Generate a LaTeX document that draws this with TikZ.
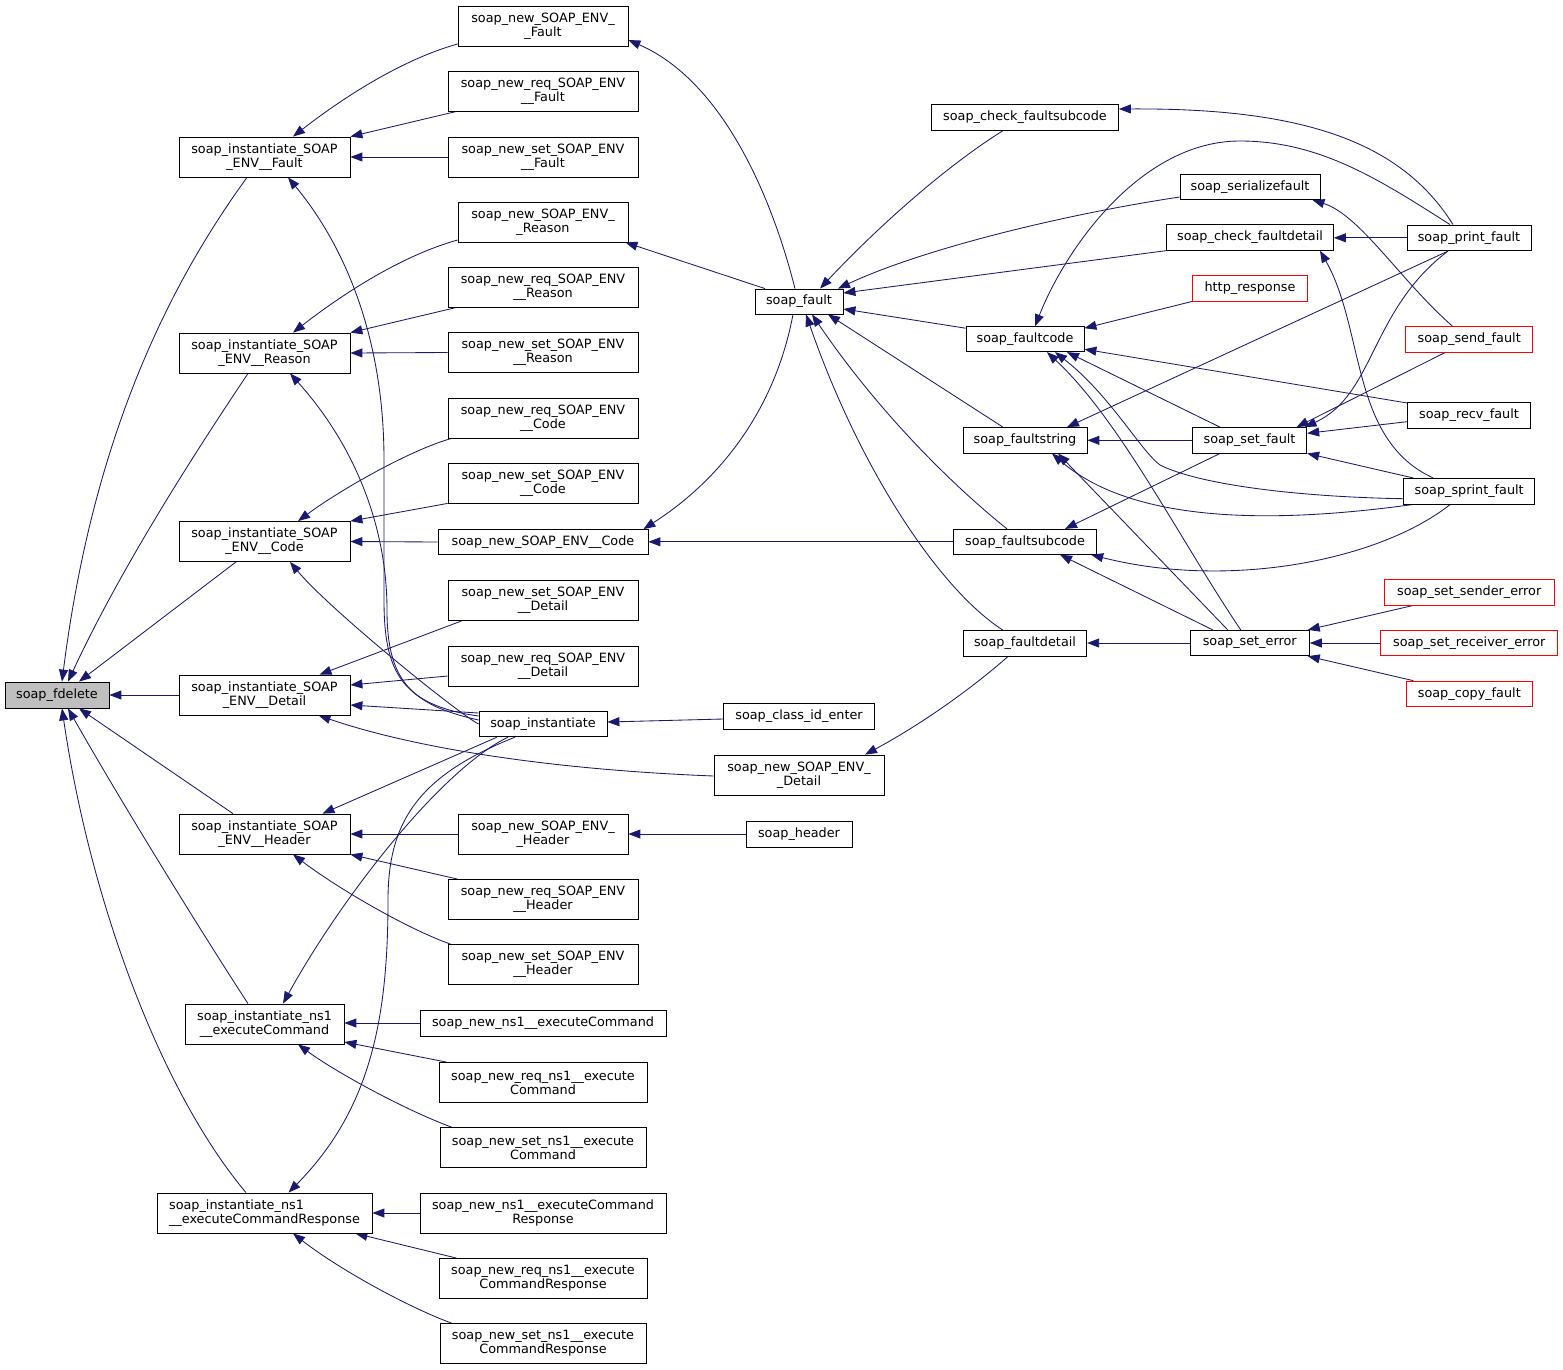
\documentclass[tikz,border=0pt]{standalone}
\usepackage{fontspec}
\setmainfont{DejaVu Sans}
\usetikzlibrary{arrows.meta,backgrounds}
\definecolor{edgecol}{RGB}{25,25,112}
\definecolor{nodered}{RGB}{255,0,0}
\definecolor{fillgray}{RGB}{191,191,191}
\newcommand\mynode[7][]{\node[box,minimum width=#5pt,minimum height=#6pt,#1] (#2) at (#3,#4) {#7};}
\begin{document}
\begin{tikzpicture}[x=1pt,y=-1pt,
 box/.style={draw=black,line width=0.8pt,fill=white,inner sep=0pt,align=center,font=\fontsize{12.8}{14}\selectfont},
 redbox/.style={draw=nodered},
 e/.style={draw=edgecol,line width=0.85pt,-{Triangle[length=12pt,width=9pt]}}]
\useasboundingbox (0,0) rectangle (1563,1369);
\mynode[fill=fillgray]{fdel}{57}{695}{104}{26}{soap\_fdelete}
\mynode{iFault}{264.5}{157}{171}{40}{soap\_instantiate\_SOAP\\\_ENV\_\_Fault}
\mynode{iReason}{264.5}{353}{171}{40}{soap\_instantiate\_SOAP\\\_ENV\_\_Reason}
\mynode{iCode}{264.5}{541.5}{171}{40}{soap\_instantiate\_SOAP\\\_ENV\_\_Code}
\mynode{iDetail}{264.5}{695}{171}{40}{soap\_instantiate\_SOAP\\\_ENV\_\_Detail}
\mynode{iHeader}{264.5}{834}{171}{40}{soap\_instantiate\_SOAP\\\_ENV\_\_Header}
\mynode{iCmd}{264.5}{1024}{159}{40}{soap\_instantiate\_ns1\\\_\_executeCommand}
\mynode[align=left]{iCmdResp}{264.5}{1213}{215}{40}{soap\_instantiate\_ns1\\\_\_executeCommandResponse}
\mynode{nFault}{543}{26}{170}{40}{soap\_new\_SOAP\_ENV\_\\\_Fault}
\mynode{nrFault}{543}{91}{190}{40}{soap\_new\_req\_SOAP\_ENV\\\_\_Fault}
\mynode{nsFault}{543}{157}{190}{40}{soap\_new\_set\_SOAP\_ENV\\\_\_Fault}
\mynode{nReason}{543}{222}{170}{40}{soap\_new\_SOAP\_ENV\_\\\_Reason}
\mynode{nrReason}{543}{287}{190}{40}{soap\_new\_req\_SOAP\_ENV\\\_\_Reason}
\mynode{nsReason}{543}{352.5}{190}{40}{soap\_new\_set\_SOAP\_ENV\\\_\_Reason}
\mynode{nrCode}{543}{418}{190}{40}{soap\_new\_req\_SOAP\_ENV\\\_\_Code}
\mynode{nsCode}{543}{483}{190}{40}{soap\_new\_set\_SOAP\_ENV\\\_\_Code}
\mynode{nCode}{543}{542}{210}{25}{soap\_new\_SOAP\_ENV\_\_Code}
\mynode{nsDetail}{543}{600.5}{190}{40}{soap\_new\_set\_SOAP\_ENV\\\_\_Detail}
\mynode{nrDetail}{543}{666}{190}{40}{soap\_new\_req\_SOAP\_ENV\\\_\_Detail}
\mynode{sInst}{543}{724}{128}{25.5}{soap\_instantiate}
\mynode{classid}{799}{716}{151}{26}{soap\_class\_id\_enter}
\mynode{nDetail}{799}{775}{170}{40}{soap\_new\_SOAP\_ENV\_\\\_Detail}
\mynode{nHeader}{543}{834}{170}{40}{soap\_new\_SOAP\_ENV\_\\\_Header}
\mynode{header}{799}{834}{106}{26}{soap\_header}
\mynode{nrHeader}{543}{899.5}{190}{40}{soap\_new\_req\_SOAP\_ENV\\\_\_Header}
\mynode{nsHeader}{543}{964.5}{190}{40}{soap\_new\_set\_SOAP\_ENV\\\_\_Header}
\mynode{nCmd}{543}{1023}{246}{26}{soap\_new\_ns1\_\_executeCommand}
\mynode{nrCmd}{543}{1082.5}{208}{40}{soap\_new\_req\_ns1\_\_execute\\Command}
\mynode{nsCmd}{543}{1147.5}{206}{40}{soap\_new\_set\_ns1\_\_execute\\Command}
\mynode{nCmdResp}{543}{1213}{246}{40}{soap\_new\_ns1\_\_executeCommand\\Response}
\mynode{nrCmdResp}{543}{1278.5}{208}{40}{soap\_new\_req\_ns1\_\_execute\\CommandResponse}
\mynode{nsCmdResp}{543}{1343.5}{206}{40}{soap\_new\_set\_ns1\_\_execute\\CommandResponse}
\mynode{fault}{799}{301.5}{88}{25}{soap\_fault}
\mynode{chkSub}{1025}{117.5}{187}{25.5}{soap\_check\_faultsubcode}
\mynode{serial}{1250}{187}{140}{25}{soap\_serializefault}
\mynode{chkDet}{1250}{237.5}{167}{25.5}{soap\_check\_faultdetail}
\mynode[redbox]{http}{1250}{288.3}{115}{25.5}{http\_response}
\mynode{fcode}{1025}{339.2}{118}{25}{soap\_faultcode}
\mynode{fstring}{1025}{440.3}{124}{25.5}{soap\_faultstring}
\mynode{setfault}{1249.5}{440.3}{114.5}{25.5}{soap\_set\_fault}
\mynode{fsub}{1025}{541.8}{143.5}{25}{soap\_faultsubcode}
\mynode{fdetail}{1025}{643.3}{123.5}{25.5}{soap\_faultdetail}
\mynode{seterr}{1249.7}{643}{119.3}{25.5}{soap\_set\_error}
\mynode{print}{1469}{237.8}{124}{25.7}{soap\_print\_fault}
\mynode[redbox]{send}{1469.2}{339.2}{127}{25.7}{soap\_send\_fault}
\mynode{recv}{1469}{415.2}{123.4}{25.7}{soap\_recv\_fault}
\mynode{sprint}{1469.2}{491.2}{131}{25.7}{soap\_sprint\_fault}
\mynode[redbox]{sender}{1469.2}{592.2}{169.7}{25.7}{soap\_set\_sender\_error}
\mynode[redbox]{receiver}{1469.2}{643}{177}{25.4}{soap\_set\_receiver\_error}
\mynode[redbox]{copy}{1469.3}{693.7}{126}{25.3}{soap\_copy\_fault}
\begin{pgfonlayer}{background}
% into soap_fdelete
\draw[e] ([xshift=-17.5pt]iFault.south) .. controls (180,270) and (95,420) .. ([xshift=5pt]fdel.north);
\draw[e] ([xshift=-16.5pt]iReason.south) .. controls (190,460) and (120,570) .. ([xshift=11pt]fdel.north);
\draw[e] ([xshift=-28.5pt]iCode.south) -- ([xshift=22pt]fdel.north);
\draw[e] (iDetail.west) -- (fdel.east);
\draw[e] ([xshift=-31.5pt]iHeader.north) -- ([xshift=22pt]fdel.south);
\draw[e] ([xshift=-16.5pt]iCmd.north) .. controls (200,930) and (120,800) .. ([xshift=11pt]fdel.south);
\draw[e] ([xshift=-18.5pt]iCmdResp.north) .. controls (160,1090) and (90,900) .. ([xshift=5pt]fdel.south);
% Fault
\draw[e] ([yshift=-18pt]nFault.west) .. controls (400,60) and (340,100) .. ([xshift=28.5pt]iFault.north);
\draw[e] ([xshift=9pt]nrFault.south west) -- (iFault.north east);
\draw[e] (nsFault.west) -- (iFault.east);
\draw[e] ([yshift=8pt]sInst.west) .. controls (400,705) and (384,670) .. (384,600) -- (384,460) .. controls (384,330) and (340,240) .. ([xshift=23.5pt]iFault.south);
% Reason
\draw[e] ([yshift=-18pt]nReason.west) .. controls (400,256) and (340,296) .. ([xshift=28.5pt]iReason.north);
\draw[e] ([xshift=9pt]nrReason.south west) -- (iReason.north east);
\draw[e] (nsReason.west) -- (iReason.east);
\draw[e] ([yshift=4pt]sInst.west) .. controls (410,705) and (387,680) .. (387,610) .. controls (387,520) and (350,440) .. ([xshift=25.5pt]iReason.south);
% Code
\draw[e] ([xshift=4pt]nrCode.south west) .. controls (410,450) and (340,490) .. ([xshift=33.5pt]iCode.north);
\draw[e] (nsCode.south west) -- (iCode.north east);
\draw[e] (nCode.west) -- (iCode.east);
\draw[e] (sInst.west) .. controls (460,715) and (330,610) .. ([xshift=25.5pt]iCode.south);
% Detail
\draw[e] ([xshift=14pt]nsDetail.south west) -- ([xshift=55pt]iDetail.north);
\draw[e] ([yshift=-10pt]nrDetail.west) -- ([yshift=10pt]iDetail.east);
\draw[e] ([yshift=11pt]sInst.west) -- ([yshift=-10pt]iDetail.east);
\draw[e] ([yshift=-1pt]nDetail.west) .. controls (560,770) and (420,750) .. ([xshift=54pt]iDetail.south);
% Header
\draw[e] ([xshift=-46pt]sInst.south) -- ([xshift=58pt]iHeader.north);
\draw[e] (nHeader.west) -- (iHeader.east);
\draw[e] ([xshift=10pt]nrHeader.north west) -- (iHeader.south east);
\draw[e] ([xshift=3pt]nsHeader.north west) .. controls (410,930) and (340,890) .. ([xshift=28.5pt]iHeader.south);
% ns1 executeCommand
\draw[e] ([xshift=-35pt]sInst.south) .. controls (440,770) and (340,900) .. ([xshift=18.5pt]iCmd.north);
\draw[e] (nCmd.west) -- (nCmd.west -| iCmd.east);
\draw[e] ([xshift=8pt]nrCmd.north west) -- ([yshift=-18pt]iCmd.east);
\draw[e] ([xshift=12pt]nsCmd.north west) .. controls (410,1112) and (340,1075) .. ([xshift=33.5pt]iCmd.south);
% ns1 executeCommandResponse
\draw[e] ([xshift=-28pt]sInst.south) .. controls (420,775) and (388,820) .. (388,900) .. controls (388,1020) and (370,1110) .. ([xshift=24pt]iCmdResp.north);
\draw[e] (nCmdResp.west) -- (iCmdResp.east);
\draw[e] ([xshift=18pt]nrCmdResp.north west) -- ([xshift=-17pt]iCmdResp.south east);
\draw[e] ([xshift=12pt]nsCmdResp.north west) .. controls (410,1308) and (340,1270) .. ([xshift=28.5pt]iCmdResp.south);
% soap_instantiate
\draw[e] ([yshift=-3pt]classid.west) -- ([yshift=2pt]sInst.east);
% middle from right
\draw[e] ([xshift=-4pt]fault.north) .. controls (770,190) and (720,80) .. ([yshift=-14pt]nFault.east);
\draw[e] ([xshift=-34pt]fault.north) -- ([xshift=-3pt]nReason.south east);
\draw[e] ([xshift=-6pt]fault.south) .. controls (775,410) and (720,480) .. ([xshift=-5pt]nCode.north east);
\draw[e] (fsub.west) -- (fsub.west -| nCode.east);
\draw[e] ([xshift=-17pt]fdetail.south) .. controls (970,690) and (920,725) .. ([xshift=66pt]nDetail.north);
\draw[e] (header.west) -- (nHeader.east);
% into soap_fault
\draw[e] ([xshift=-22pt]chkSub.south) .. controls (940,170) and (870,235) .. ([xshift=21pt]fault.north);
\draw[e] ([yshift=-10pt]serial.west) .. controls (1060,215) and (920,250) .. ([xshift=39pt]fault.north);
\draw[e] (chkDet.south west) -- ([yshift=8.5pt]fault.east);
\draw[e] ([yshift=11pt]fcode.west) -- ([yshift=-7.5pt]fault.east);
\draw[e] ([xshift=-22pt]fstring.north) -- ([xshift=29pt]fault.south);
\draw[e] ([xshift=-18pt]fsub.north) .. controls (940,475) and (870,400) .. ([xshift=13pt]fault.south);
\draw[e] ([xshift=-22pt]fdetail.north) .. controls (940,590) and (860,470) .. ([xshift=7pt]fault.south);
% right part
\draw[e] ([xshift=-16pt]print.north) .. controls (1400,140) and (1300,108) .. ([yshift=8.5pt]chkSub.east);
\draw[e] ([xshift=-19pt]print.north) .. controls (1380,180) and (1320,141) .. (1240,141) .. controls (1140,141) and (1065,250) .. ([xshift=10pt]fcode.north);
\draw[e] (print.west) -- (print.west -| chkDet.east);
\draw[e] ([xshift=-21pt]print.south) -- ([xshift=42pt]fstring.north);
\draw[e] ([xshift=-21pt]print.south) .. controls (1370,310) and (1375,395) .. ([xshift=55pt]setfault.north);
\draw[e] ([xshift=-17pt]send.north) .. controls (1400,280) and (1360,215) .. ([xshift=-8pt]serial.south east);
\draw[e] ([xshift=-24pt]send.south) -- ([xshift=47pt]setfault.north);
\draw[e] ([yshift=-1pt]recv.north west) -- ([yshift=-10pt]fcode.east);
\draw[e] ([yshift=-6.5pt]recv.west) -- ([yshift=7pt]setfault.east);
\draw[e] ([xshift=-56pt]sprint.north) -- (setfault.south east);
\draw[e] ([xshift=-36pt]sprint.north) .. controls (1350,440) and (1365,330) .. ([xshift=70pt]chkDet.south);
\draw[e] ([yshift=-7.5pt]sprint.west) .. controls (1300,497) and (1200,485) .. (1160,465) .. controls (1140,450) and (1110,395) .. ([xshift=30pt]fcode.south);
\draw[e] ([xshift=10pt]sprint.south west) .. controls (1300,520) and (1140,530) .. ([xshift=27pt]fstring.south);
\draw[e] ([xshift=-19pt]sprint.south) .. controls (1380,560) and (1230,590) .. ([xshift=-6pt]fsub.south east);
\draw[e] (setfault.west) -- (setfault.west -| fstring.east);
\draw[e] ([xshift=-29.5pt]setfault.north) -- ([xshift=42pt]fcode.south);
\draw[e] ([xshift=-29.5pt]setfault.south) -- ([xshift=40pt]fsub.north);
\draw[e] ([xshift=-9pt]seterr.north) .. controls (1180,540) and (1120,420) .. ([xshift=22pt]fcode.south);
\draw[e] ([xshift=-22pt]seterr.north) -- ([xshift=33pt]fstring.south);
\draw[e] ([xshift=-37pt]seterr.north) -- ([xshift=35pt]fsub.south);
\draw[e] (seterr.west) -- (seterr.west -| fdetail.east);
\draw[e] ([xshift=-56pt]sender.south) -- ([xshift=-2pt]seterr.north east);
\draw[e] (receiver.west) -- (seterr.east);
\draw[e] ([xshift=-56pt]copy.north) -- ([xshift=-2pt]seterr.south east);
\draw[e] (http.south west) -- ([yshift=11pt]fcode.east);
\end{pgfonlayer}
\end{tikzpicture}
\end{document}
